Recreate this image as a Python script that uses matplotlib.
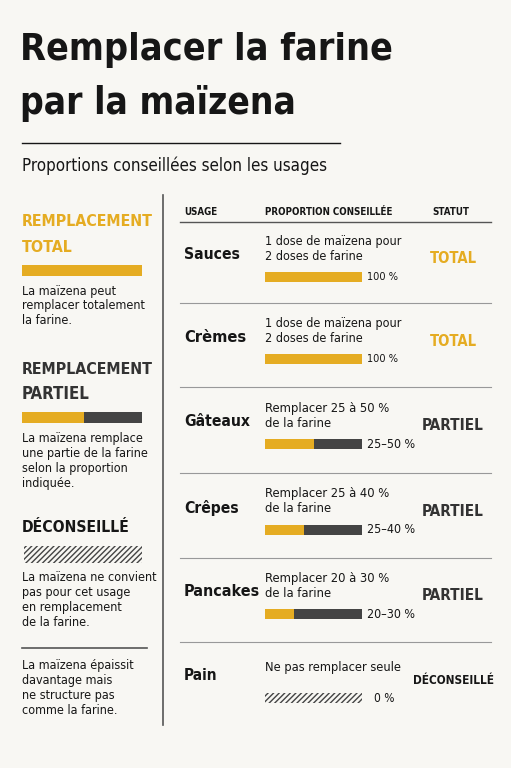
import matplotlib.pyplot as plt
from matplotlib.patches import Rectangle
from matplotlib import font_manager
from matplotlib.font_manager import FontProperties

# data
usages = ['Sauces', 'Crèmes', 'Gâteaux', 'Crêpes', 'Pancakes', 'Pain']
descriptions = ['1 dose de maïzena pour\n2 doses de farine',
                '1 dose de maïzena pour\n2 doses de farine',
                'Remplacer 25 à 50 %\nde la farine',
                'Remplacer 25 à 40 %\nde la farine',
                'Remplacer 20 à 30 %\nde la farine',
                'Ne pas remplacer seule']
low_pct = [100, 100, 25, 25, 20, 0]
high_pct = [100, 100, 50, 40, 30, 0]
pct_labels = ['100 %', '100 %', '25–50 %', '25–40 %', '20–30 %', '0 %']
statuts = ['TOTAL', 'TOTAL', 'PARTIEL', 'PARTIEL', 'PARTIEL', 'DÉCONSEILLÉ']

YEL = '#e5ac22'
DARK = '#444444'
INK = '#161616'
BG = '#f8f7f3'

# look for a condensed face on the system
cond_reg, cond_bold = None, None
for f in font_manager.fontManager.ttflist:
    fn = f.fname.lower()
    if 'condensed' in fn or 'narrow' in fn:
        if 'oblique' in fn or 'italic' in fn:
            continue
        if 'bold' in fn and cond_bold is None:
            cond_bold = f.fname
        elif 'bold' not in fn and cond_reg is None:
            cond_reg = f.fname
FP_B = FontProperties(fname=cond_bold) if cond_bold else FontProperties(family='DejaVu Sans', weight='bold')
FP_R = FontProperties(fname=cond_reg) if cond_reg else FontProperties(family='DejaVu Sans')

fig = plt.figure(figsize=(5.11, 7.68), dpi=100, facecolor=BG)
ax = fig.add_axes([0, 0, 1, 1])
ax.set_xlim(0, 511)
ax.set_ylim(768, 0)
ax.axis('off')
renderer = fig.canvas.get_renderer()


def fit(x, y, s, width, size, bold=True, slack=1.0, **kw):
    t = ax.text(x, y, s, fontproperties=(FP_B if bold else FP_R).copy(), va='center', **kw)
    t.set_fontsize(size)
    w = t.get_window_extent(renderer).width
    width = width * slack
    if w > width:
        t.set_fontsize(size * width / w)
    return t


# title
fit(20, 50, 'Remplacer la farine', 372, 40, color=INK)
fit(20, 104, 'par la maïzena', 276, 40, color=INK)
ax.plot([22, 340], [143, 143], color=INK, lw=1)
fit(22, 166, 'Proportions conseillées selon les usages', 306, 14, bold=False, color=INK)

# left legend
ax.plot([163, 163], [195, 725], color='#555555', lw=1.2)
fit(22, 222, 'REMPLACEMENT', 120, 17, slack=1.1, color=YEL)
fit(22, 247, 'TOTAL', 46, 17, slack=1.1, color=YEL)
ax.add_patch(Rectangle((22, 265), 120, 11, color=YEL, lw=0))
body = dict(bold=False, slack=1.25, color=INK, linespacing=1.2)
fit(22, 306, 'La maïzena peut\nremplacer totalement\nla farine.', 110, 9, **body)

fit(22, 369, 'REMPLACEMENT', 120, 17, slack=1.1, color='#333333')
fit(22, 394, 'PARTIEL', 62, 17, slack=1.1, color='#333333')
ax.add_patch(Rectangle((22, 412), 62, 11, color=YEL, lw=0))
ax.add_patch(Rectangle((84, 412), 58, 11, color=DARK, lw=0))
fit(22, 461, 'La maïzena remplace\nune partie de la farine\nselon la proportion\nindiquée.',
    117, 9, **body)

fit(22, 527, 'DÉCONSEILLÉ', 98, 17, slack=1.1, color=INK)
ax.add_patch(Rectangle((24, 546), 118, 17, facecolor='none', edgecolor=DARK,
                       hatch='//////', lw=0))
fit(22, 600, 'La maïzena ne convient\npas pour cet usage\nen remplacement\nde la farine.',
    120, 9, **body)
ax.plot([22, 147], [648, 648], color='#555555', lw=1.2)
fit(22, 688, 'La maïzena épaissit\ndavantage mais\nne structure pas\ncomme la farine.',
    102, 9, **body)

# table header
fit(184, 212, 'USAGE', 28, 8, slack=1.2, color=INK)
fit(265, 212, 'PROPORTION CONSEILLÉE', 106, 8, slack=1.2, color=INK)
fit(432, 212, 'STATUT', 31, 8, slack=1.2, color=INK)
ax.plot([180, 491], [222, 222], color='#555555', lw=1)

row_top = [222, 303, 387, 473, 558, 642]
row_h = [81, 84, 86, 85, 84, 84]
usage_w = [45, 50, 53, 44, 61, 27]
desc_w = [114, 114, 104, 104, 104, 114]
stat_w = [41, 41, 54, 54, 54, 71]
bar_x, bar_w, bar_h = 265, 97, 10
for i, u in enumerate(usages):
    y0 = row_top[i]
    mid = y0 + row_h[i] / 2
    fit(184, mid - 8, u, usage_w[i], 16, slack=1.25, color=INK)
    single = '\n' not in descriptions[i]
    fit(265, mid - 17 if single else mid - 14, descriptions[i], desc_w[i], 9.5, bold=False,
        slack=1.2, color=INK, linespacing=1.2)
    by = mid + 14
    if high_pct[i] == 0:
        ax.add_patch(Rectangle((bar_x, by - bar_h / 2), bar_w, bar_h, facecolor='none',
                               edgecolor=DARK, hatch='//////', lw=0))
        fit(bar_x + bar_w + 12, by, pct_labels[i], 17, 9, bold=False, slack=1.2, color=INK)
    else:
        yw = bar_w * high_pct[i] / 100
        if high_pct[i] < 100:
            ax.add_patch(Rectangle((bar_x, by - bar_h / 2), bar_w, bar_h, color=DARK, lw=0))
        ax.add_patch(Rectangle((bar_x, by - bar_h / 2), yw, bar_h, color=YEL, lw=0))
        fit(bar_x + bar_w + 5, by, pct_labels[i], 26 if high_pct[i] == 100 else 40, 9,
            bold=False, slack=1.2, color=INK)
    st = statuts[i]
    col = YEL if st == 'TOTAL' else INK if st == 'DÉCONSEILLÉ' else '#333333'
    fit(453, mid - 4, st, stat_w[i], 16, slack=1.15, color=col, ha='center')
    if i < len(usages) - 1:
        ax.plot([180, 491], [y0 + row_h[i]] * 2, color='#999999', lw=0.8)

fig.savefig('out.png', dpi=100, facecolor=BG)
